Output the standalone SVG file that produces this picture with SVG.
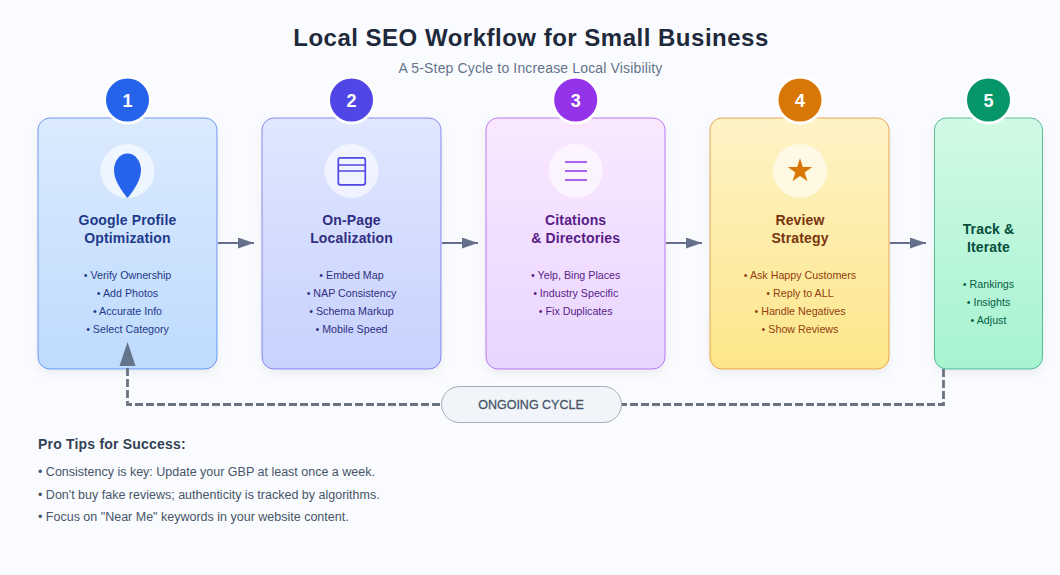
<svg xmlns="http://www.w3.org/2000/svg" width="1060" height="575" viewBox="0 0 1060 575">
<style>
text{font-family:"Liberation Sans",Arial,sans-serif}
.m{text-anchor:middle}
.card{stroke-width:1}
.badge{stroke:#fff;stroke-width:3}
.num{font-size:18px;font-weight:700;fill:#fff;text-anchor:middle}
.t{font-size:14px;font-weight:700;text-anchor:middle;letter-spacing:.15px}
.l{font-size:10.7px;text-anchor:middle}
.halo{fill:#fff;fill-opacity:.6}
.tip{font-size:12.5px;fill:#475569}
.conn{fill:none;stroke:#64708b;stroke-width:2}
.dash{fill:none;stroke:#6b7280;stroke-width:2.8;stroke-dasharray:8 3}
</style>
<defs>
<filter id="sh" x="-15%" y="-10%" width="130%" height="125%"><feDropShadow dx="0" dy="4" stdDeviation="4" flood-color="#000" flood-opacity=".06"/></filter>
<linearGradient id="g1" x1="0" y1="0" x2="0" y2="1"><stop offset="0" stop-color="#dbeafe"/><stop offset="1" stop-color="#bfdbfe"/></linearGradient>
<linearGradient id="g2" x1="0" y1="0" x2="0" y2="1"><stop offset="0" stop-color="#e0e7ff"/><stop offset="1" stop-color="#c7d2fe"/></linearGradient>
<linearGradient id="g3" x1="0" y1="0" x2="0" y2="1"><stop offset="0" stop-color="#fae8ff"/><stop offset="1" stop-color="#e9d5ff"/></linearGradient>
<linearGradient id="g4" x1="0" y1="0" x2="0" y2="1"><stop offset="0" stop-color="#fef3c7"/><stop offset="1" stop-color="#fde68a"/></linearGradient>
<linearGradient id="g5" x1="0" y1="0" x2="0" y2="1"><stop offset="0" stop-color="#d1fae5"/><stop offset="1" stop-color="#a7f3d0"/></linearGradient>
<marker id="a" markerUnits="userSpaceOnUse" markerWidth="17" markerHeight="11" refX="16" refY="5.500" orient="auto"><path d="M0 0L16 5.500L0 11Z" fill="#64708b"/></marker>
</defs>
<rect width="1060" height="575" fill="#fafbfe"/>
<text class="m" x="531" y="46" font-size="24" letter-spacing=".5" font-weight="700" fill="#1e293b">Local SEO Workflow for Small Business</text>
<text class="m" x="530.500" y="73" font-size="14" letter-spacing=".15" fill="#64748b">A 5-Step Cycle to Increase Local Visibility</text>

<g id="step1">
<rect class="card" x="38" y="118" width="179" height="251" rx="12" fill="url(#g1)" stroke="#2563eb" stroke-opacity=".6" filter="url(#sh)"/>
<circle class="badge" cx="127.500" cy="100" r="23" fill="#2563eb"/><text class="num" x="127.500" y="107">1</text>
<circle class="halo" cx="127.500" cy="171" r="27"/>
<path d="M127.500 198C121 190 114 180 114 170C114 161 120 153.500 127.500 153.500C135 153.500 141 161 141 170C141 180 134 190 127.500 198Z" fill="#2563eb"/>
<text class="t" fill="#1e3a8a"><tspan x="127.500" y="225">Google Profile</tspan><tspan x="127.500" y="243">Optimization</tspan></text>
<text class="l" fill="#1e3a8a"><tspan x="127.500" y="279">• Verify Ownership</tspan><tspan x="127.500" y="297">• Add Photos</tspan><tspan x="127.500" y="315">• Accurate Info</tspan><tspan x="127.500" y="333">• Select Category</tspan></text>
</g>
<g id="step2">
<rect class="card" x="262" y="118" width="179" height="251" rx="12" fill="url(#g2)" stroke="#4f46e5" stroke-opacity=".6" filter="url(#sh)"/>
<circle class="badge" cx="351.500" cy="100" r="23" fill="#4f46e5"/><text class="num" x="351.500" y="107">2</text>
<circle class="halo" cx="351.500" cy="171" r="27"/>
<g fill="none" stroke="#4f46e5" stroke-width="1.700"><rect x="338.300" y="157.800" width="27" height="27" rx="2"/><path d="M338.300 165H365.300M338.300 171H365.300"/></g>
<text class="t" fill="#312e81"><tspan x="351.500" y="225">On-Page</tspan><tspan x="351.500" y="243">Localization</tspan></text>
<text class="l" fill="#312e81"><tspan x="351.500" y="279">• Embed Map</tspan><tspan x="351.500" y="297">• NAP Consistency</tspan><tspan x="351.500" y="315">• Schema Markup</tspan><tspan x="351.500" y="333">• Mobile Speed</tspan></text>
</g>
<g id="step3">
<rect class="card" x="486" y="118" width="179" height="251" rx="12" fill="url(#g3)" stroke="#9333ea" stroke-opacity=".6" filter="url(#sh)"/>
<circle class="badge" cx="575.700" cy="100" r="23" fill="#9333ea"/><text class="num" x="575.700" y="107">3</text>
<circle class="halo" cx="575.700" cy="171" r="27"/>
<path d="M565 162H587M565 171H587M565 180H587" fill="none" stroke="#9333ea" stroke-width="1.700"/>
<text class="t" fill="#581c87"><tspan x="575.700" y="225">Citations</tspan><tspan x="575.700" y="243">&amp; Directories</tspan></text>
<text class="l" fill="#581c87"><tspan x="575.700" y="279">• Yelp, Bing Places</tspan><tspan x="575.700" y="297">• Industry Specific</tspan><tspan x="575.700" y="315">• Fix Duplicates</tspan></text>
</g>
<g id="step4">
<rect class="card" x="710" y="118" width="179" height="251" rx="12" fill="url(#g4)" stroke="#d97706" stroke-opacity=".6" filter="url(#sh)"/>
<circle class="badge" cx="800" cy="100" r="23" fill="#d97706"/><text class="num" x="800" y="107">4</text>
<circle class="halo" cx="800" cy="171" r="27"/>
<path d="M800 158.200L802.880 167.040H812.170L804.660 172.510L807.520 181.360L800 175.900L792.480 181.360L795.340 172.510L787.830 167.040H797.120Z" fill="#d97706"/>
<text class="t" fill="#78350f"><tspan x="800" y="225">Review</tspan><tspan x="800" y="243">Strategy</tspan></text>
<text class="l" fill="#92400e"><tspan x="800" y="279">• Ask Happy Customers</tspan><tspan x="800" y="297">• Reply to ALL</tspan><tspan x="800" y="315">• Handle Negatives</tspan><tspan x="800" y="333">• Show Reviews</tspan></text>
</g>
<g id="step5">
<rect class="card" x="934.500" y="118" width="108" height="251" rx="12" fill="url(#g5)" stroke="#059669" stroke-opacity=".6" filter="url(#sh)"/>
<circle class="badge" cx="988.500" cy="100" r="23" fill="#059669"/><text class="num" x="988.500" y="107">5</text>
<text class="t" fill="#064e3b"><tspan x="988.500" y="234">Track &amp;</tspan><tspan x="988.500" y="252">Iterate</tspan></text>
<text class="l" fill="#065f46"><tspan x="988.500" y="288">• Rankings</tspan><tspan x="988.500" y="306">• Insights</tspan><tspan x="988.500" y="324">• Adjust</tspan></text>
</g>

<g id="connectors">
<path class="conn" d="M218 243H254" marker-end="url(#a)"/>
<path class="conn" d="M442 243H478" marker-end="url(#a)"/>
<path class="conn" d="M666 243H702" marker-end="url(#a)"/>
<path class="conn" d="M890 243H926" marker-end="url(#a)"/>
<path class="dash" d="M943.500 369V404.500H127.500V366"/>
<path d="M127.500 342L135.500 366H119.500Z" fill="#64748b"/>
</g>
<g id="cycle-label">
<rect x="441.500" y="386.500" width="180" height="36" rx="18" fill="#f1f5f9" stroke="#a3adba"/>
<text class="m" x="531" y="409" font-size="12.500" fill="#475569" stroke="#475569" stroke-width=".3">ONGOING CYCLE</text>
</g>
<g id="tips">
<text x="38" y="449" font-size="14" letter-spacing=".2" font-weight="700" fill="#334155">Pro Tips for Success:</text>
<text class="tip" x="38" y="476">• Consistency is key: Update your GBP at least once a week.</text>
<text class="tip" x="38" y="499">• Don't buy fake reviews; authenticity is tracked by algorithms.</text>
<text class="tip" x="38" y="521">• Focus on "Near Me" keywords in your website content.</text>
</g>
</svg>
